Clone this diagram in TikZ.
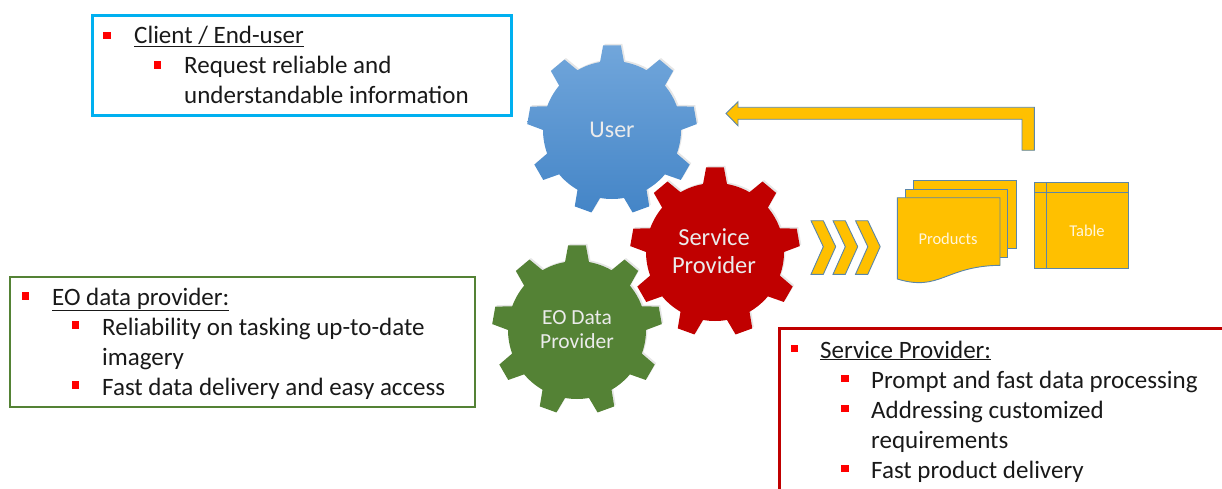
\documentclass[tikz,border=0pt]{standalone}
\usepackage{fontspec}
\setmainfont{Carlito}
\usetikzlibrary{shadows}

\definecolor{boxblue}{HTML}{00B0F0}
\definecolor{boxgreen}{HTML}{548235}
\definecolor{boxred}{HTML}{C00000}
\definecolor{gearbluetop}{HTML}{71A6DB}
\definecolor{gearbluebot}{HTML}{4485C7}
\definecolor{shapeyellow}{HTML}{FFC000}
\definecolor{shapeedge}{HTML}{5B86A8}
\definecolor{paletext}{HTML}{FFF6DC}

\tikzset{
	itemtext/.style={anchor=base west, inner sep=0pt, font=\fontsize{25}{29}\selectfont, text=black!90},
	geartext/.style={align=center, text=white!92!black, inner sep=0pt},
	yellowshape/.style={fill=shapeyellow, draw=shapeedge, line width=0.9pt, line join=miter},
	smalltext/.style={inner sep=0pt, text=paletext, font=\fontsize{16.5}{20}\selectfont},
	geardrop/.style={drop shadow={shadow xshift=1.5pt, shadow yshift=1.5pt, opacity=0.2}}
}

% one gear with nine teeth, #1 centre, #2 look
\newcommand{\gearat}[2]{
	\path[shift={(#1)}, geardrop, #2] (0:69pt)
	\foreach \a in {10,50,...,330} {
		-- (\a-6:85pt) -- (\a+6:85pt) -- (\a+10:69pt)
		arc[start angle=\a+10, end angle=\a+30, radius=69pt]
	} -- cycle;
}
\newcommand{\itemmark}[1]{\fill[red] (#1) ++(-3.6,-3.6) rectangle ++(7.2,7.2);}

\begin{document}
\begin{tikzpicture}[x=1pt, y=-1pt]

	\useasboundingbox (0,0) rectangle (1222,489);

	% gears
	\gearat{612,130}{top color=gearbluetop, bottom color=gearbluebot}
	\gearat{715,252}{fill=boxred}
	\gearat{577,330}{fill=boxgreen}

	\node[geartext, font=\fontsize{24}{28}\selectfont] (user) at (612,130) {User};
	\node[geartext, font=\fontsize{24.5}{28}\selectfont] (service) at (714,251) {Service\\Provider};
	\node[geartext, font=\fontsize{21.5}{24}\selectfont] (eodata) at (577,330) {EO Data\\Provider};

	% arrow back to the user
	\draw[yellowshape] (726,113.5) -- (738,101.7) -- (738,107.3) -- (1034.3,107.3) -- (1034.3,150.3)
		-- (1022,150.3) -- (1022,119.3) -- (738,119.3) -- (738,125.7) -- cycle;

	% chevrons
	\foreach \dx in {0,22,44.5} {
		\draw[yellowshape, shift={(\dx,0)}] (811,220.7) -- (823.3,220.7) -- (835.7,246.7) -- (823.3,274.3)
			-- (811,274.3) -- (823.3,246.7) -- cycle;
	}

	% stack of products
	\draw[yellowshape] (913.3,180.7) rectangle (1016.7,248.3);
	\draw[yellowshape] (905.7,189.3) rectangle (1007.7,257.3);
	\draw[yellowshape] (897.3,197.7) -- (1000,197.7) -- (1000,265.3)
		.. controls (945,266) and (940,292) .. (897.3,279) -- cycle;
	\node[smalltext] (products) at (948,239) {Products};

	% table
	\draw[yellowshape] (1034.3,182) rectangle (1128.7,268.3);
	\draw[yellowshape] (1046.3,182) -- (1046.3,268.3);
	\draw[yellowshape] (1034.3,192.7) -- (1128.7,192.7);
	\node[smalltext] (table) at (1087,231) {Table};

	% client box
	\draw[boxblue, line width=3pt] (92,15.5) rectangle (511,116);
	\itemmark{107,35.5}
	\node[itemtext] (client) at (134,44) {\underline{Client / End-user}};
	\itemmark{157.5,65}
	\node[itemtext] (clienta) at (184,74) {Request reliable and};
	\node[itemtext] (clientb) at (184,104) {understandable information};

	% data provider box
	\draw[boxgreen, line width=2.6pt] (10,277) rectangle (475,407);
	\itemmark{25.5,296}
	\node[itemtext] (provider) at (52,305) {\underline{EO data provider:}};
	\itemmark{75.5,325}
	\node[itemtext] (providera) at (102,335) {Reliability on tasking up-to-date};
	\node[itemtext] (providerb) at (102,365) {imagery};
	\itemmark{75.5,385}
	\node[itemtext] (providerc) at (102,395) {Fast data delivery and easy access};

	% service box, runs off the picture
	\draw[boxred, line width=2.6pt] (1222,328.5) -- (779.5,328.5) -- (779.5,489);
	\itemmark{794.5,348.5}
	\node[itemtext] (servicebox) at (820,358) {\underline{Service Provider:}};
	\itemmark{845,378.5}
	\node[itemtext] (servicea) at (871,388) {Prompt and fast data processing};
	\itemmark{845,408.5}
	\node[itemtext] (serviceb) at (871,418) {Addressing customized};
	\node[itemtext] (servicec) at (871,448) {requirements};
	\itemmark{845,468.5}
	\node[itemtext] (serviced) at (871,478) {Fast product delivery};
\end{tikzpicture}
\end{document}
